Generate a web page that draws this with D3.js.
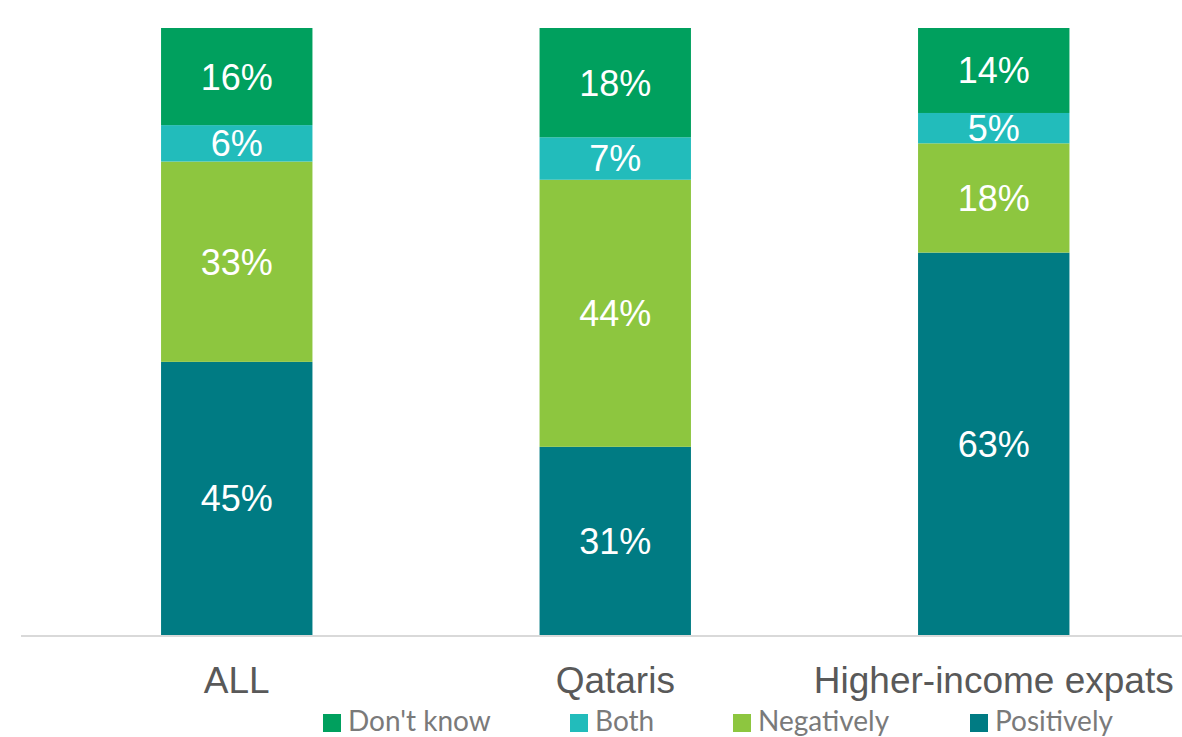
<!DOCTYPE html>
<html>
<head>
<meta charset="utf-8">
<script src="https://cdn.jsdelivr.net/npm/d3@7"></script>
<style>
  body { margin: 0; background: #fff; }
</style>
</head>
<body>
<div id="chart"></div>
<script>
// data
const categories = [`ALL`, `Qataris`, `Higher-income expats`];
const seriesNames = [`Positively`, `Negatively`, `Both`, `Don't know`];
const positively = [45, 31, 63];
const negatively = [33, 44, 18];
const both = [6, 7, 5];
const dontKnow = [16, 18, 14];
const legendOrder = [`Don't know`, `Both`, `Negatively`, `Positively`];
const seriesColors = [`#007b83`, `#8dc63f`, `#22bcbb`, `#00a05e`];

const width = 1182;
const height = 737;
const margin = {top: 28, bottom: 102, left: 21, right: 0};
const baseY = height - margin.bottom;

const labelFont = `"Liberation Sans", Arial, sans-serif`;
const legendFont = `Lato, "Open Sans", sans-serif`;

const color = d3.scaleOrdinal()
    .domain(seriesNames)
    .range(seriesColors);

const rows = categories.map((c, i) => ({
    cat: c,
    "Positively": positively[i],
    "Negatively": negatively[i],
    "Both": both[i],
    "Don't know": dontKnow[i]
}));

const svg = d3.select(`#chart`).append(`svg`)
    .attr(`width`, width)
    .attr(`height`, height);

const xScale = d3.scaleBand()
    .domain(categories)
    .range([47.5, 1183])
    .paddingInner(0.6)
    .paddingOuter(0.3);

const yScale = d3.scaleLinear()
    .domain([0, 100])
    .range([baseY, margin.top]);

const stacked = d3.stack().keys(seriesNames)(rows);

const layers = svg.append(`g`).selectAll(`g`)
    .data(stacked)
    .join(`g`)
    .attr(`fill`, d => color(d.key));

layers.selectAll(`rect`)
    .data(d => d)
    .join(`rect`)
    .attr(`x`, d => xScale(d.data.cat))
    .attr(`y`, d => yScale(d[1]))
    .attr(`width`, xScale.bandwidth())
    .attr(`height`, d => yScale(d[0]) - yScale(d[1]));

layers.selectAll(`text`)
    .data(d => d)
    .join(`text`)
    .attr(`x`, d => xScale(d.data.cat) + xScale.bandwidth() / 2)
    .attr(`y`, d => (yScale(d[0]) + yScale(d[1])) / 2)
    .attr(`dy`, `0.36em`)
    .attr(`text-anchor`, `middle`)
    .style(`font-family`, labelFont)
    .style(`font-size`, `36px`)
    .attr(`fill`, `#ffffff`)
    .text(d => (d[1] - d[0]) + `%`);

// baseline
svg.append(`line`)
    .attr(`x1`, margin.left)
    .attr(`x2`, width)
    .attr(`y1`, baseY + 1)
    .attr(`y2`, baseY + 1)
    .attr(`stroke`, `#d9d9d9`)
    .attr(`stroke-width`, 2);

// category labels
const xAxis = svg.append(`g`)
    .attr(`transform`, `translate(0, ${baseY})`)
    .call(d3.axisBottom(xScale).tickSize(0).tickPadding(0));
xAxis.select(`.domain`).remove();
xAxis.selectAll(`text`)
    .attr(`y`, 58)
    .attr(`dy`, 0)
    .style(`font-family`, labelFont)
    .style(`font-size`, `37px`)
    .attr(`fill`, `#595959`);

// legend
const legendX = [323, 570, 733, 970];
const legend = svg.append(`g`).selectAll(`g`)
    .data(legendOrder)
    .join(`g`)
    .attr(`transform`, (d, i) => `translate(${legendX[i]}, 714)`);

legend.append(`rect`)
    .attr(`width`, 18)
    .attr(`height`, 18)
    .attr(`fill`, d => color(d));

legend.append(`text`)
    .attr(`x`, 25)
    .attr(`y`, 17)
    .style(`font-family`, legendFont)
    .style(`font-size`, `28px`)
    .attr(`fill`, `#7a7a7a`)
    .text(d => d);
</script>
</body>
</html>
